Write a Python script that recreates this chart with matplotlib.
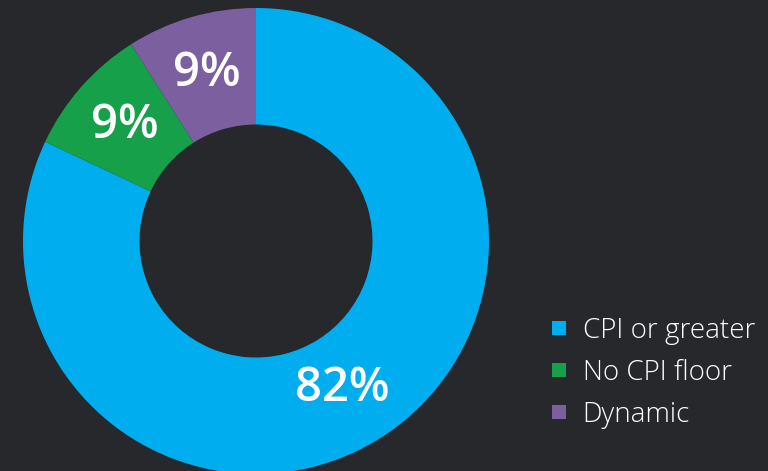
import matplotlib.pyplot as plt
from matplotlib.lines import Line2D

labels = ['CPI or greater', 'No CPI floor', 'Dynamic']
shares = [82, 9, 9]
colors = ['#00aeef', '#16a04a', '#7b5f9e']
bg = '#26282b'

fig = plt.figure(figsize=(7.68, 4.71), dpi=100, facecolor=bg)
ax = fig.add_axes([23/768, -3/471, 466/768, 466/471])
ax.set_facecolor(bg)

wedges, texts, autotexts = ax.pie(shares, colors=colors, startangle=90, counterclock=False,
                                  radius=1, autopct='%d%%', pctdistance=0.75,
                                  wedgeprops=dict(width=0.5, linewidth=0),
                                  textprops=dict(color='white', fontsize=34,
                                                 family='Open Sans', weight='semibold'))
autotexts[0].set_x(autotexts[0].get_position()[0] - 0.03)
ax.set_xlim(-1, 1)
ax.set_ylim(-1, 1)
ax.set_aspect('equal')
ax.axis('off')

handles = [Line2D([], [], marker='s', linestyle='none', markersize=9.5,
                  markerfacecolor=c, markeredgewidth=0) for c in colors]
leg = fig.legend(handles, labels, loc='upper left', bbox_to_anchor=(548/768, 1 - 317/471),
                 frameon=False, borderpad=0, borderaxespad=0,
                 handlelength=0.8, handletextpad=0.45, labelspacing=0.5,
                 prop=dict(family='Open Sans', size=20, weight='light'))
for t in leg.get_texts():
    t.set_color('white')

plt.savefig('out.png', dpi=100, facecolor=bg)
